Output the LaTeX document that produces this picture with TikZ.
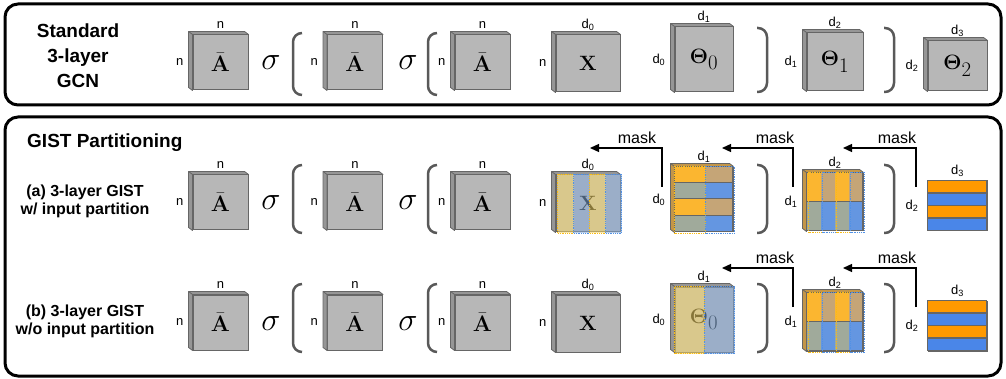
\documentclass[tikz,border=0pt]{standalone}
\usepackage{amsmath}
\usepackage{graphicx}
\usepackage[no-math]{fontspec}
\setsansfont{Liberation Sans}
\usetikzlibrary{positioning,arrows.meta}

\definecolor{plategray}{RGB}{183,183,183}
\definecolor{slabgray}{RGB}{150,150,150}
\definecolor{slabor}{RGB}{196,150,72}
\definecolor{edgegray}{RGB}{102,102,102}
\definecolor{parengray}{RGB}{89,89,89}
\definecolor{ovor}{RGB}{245,214,105}
\definecolor{ovbl}{RGB}{132,168,214}
\definecolor{dotor}{RGB}{250,188,20}
\definecolor{dotbl}{RGB}{80,145,230}
\definecolor{cor}{RGB}{251,182,48}
\definecolor{ctan}{RGB}{197,165,119}
\definecolor{cgg}{RGB}{160,170,155}
\definecolor{cbl}{RGB}{100,150,225}
\definecolor{bandor}{RGB}{255,153,0}
\definecolor{bandbl}{RGB}{74,134,232}

\newcommand{\dsub}[1]{d\textsubscript{#1}}
\newcommand{\adj}{\scalebox{1.08}{$\bar{\mathbf{A}}$}}
\newcommand{\drawslab}[2][slabgray]{%
  \filldraw[fill=#1,draw=edgegray,line width=0.8pt,line join=round]
    (#2.north east) -- ([shift={(-4,-3)}]#2.north east)
    -- ([shift={(-4,-3)}]#2.north west) -- ([shift={(-4,-3)}]#2.south west)
    -- (#2.south west) -- (#2.north west) -- cycle;
  \draw[edgegray,line width=0.8pt] (#2.north west) -- ++(-4,-3);}

\begin{document}
\begin{tikzpicture}[x=1pt,y=-1pt,
    panel/.style={draw=black,line width=3pt,rounded corners=13pt},
    title/.style={font=\sffamily\bfseries\fontsize{19}{25}\selectfont,align=center,inner sep=0pt},
    rowtitle/.style={font=\sffamily\bfseries\fontsize{16}{18}\selectfont,align=center,inner sep=0pt},
    mat/.style={draw=edgegray,fill=plategray,line width=1pt,inner sep=0pt,font=\fontsize{20.74}{21}\selectfont},
    lbl/.style={font=\sffamily\fontsize{13}{13}\selectfont,inner sep=1pt},
    sig/.style={font=\fontsize{24.88}{25}\selectfont,inner sep=0pt,anchor=base},
    paren/.style={draw=parengray,line width=2.5pt,rounded corners=9pt},
    maskarrow/.style={-{Triangle[length=9pt,width=8pt]},line width=1.3pt},
    masktxt/.style={font=\sffamily\fontsize{16}{16}\selectfont,inner sep=0pt},
    part/.style={densely dotted,line width=0.8pt}]

\useasboundingbox (0,0) rectangle (1006,379);
\draw[panel] (5,4) rectangle (1001,105);
\draw[panel] (5,117) rectangle (1001,376);

\node[title] (gcn) at (78,56) {Standard\\3-layer\\GCN};
\node[title,anchor=base west] (gist) at (27,148) {GIST Partitioning};
\node[rowtitle] (rowa) at (85,201) {(a) 3-layer GIST\\w/ input partition};
\node[rowtitle] (rowb) at (85,321) {(b) 3-layer GIST\\w/o input partition};

% one row per model
\foreach \r/\dy/\pt/\pb/\qt/\qb in {t/0/33/95/28/92,a/140/165/233/165/233,b/260/284/352/284/352}{
  \node[mat,minimum width=55pt,minimum height=55pt] (A1\r) at (220.5,62.5+\dy) {\adj};
  \node[mat,minimum width=55pt,minimum height=55pt] (A2\r) at (355,62.5+\dy) {\adj};
  \node[mat,minimum width=55pt,minimum height=55pt] (A3\r) at (482.5,62.5+\dy) {\adj};
  \node[mat,minimum width=64pt,minimum height=57pt] (X\r) at (588,63.5+\dy) {$\mathbf{X}$};
  \node[mat,minimum width=58pt,minimum height=65pt] (Th0\r) at (704,59.5+\dy) {$\boldsymbol{\Theta}_{\textstyle 0}$};
  \node[mat,minimum width=56pt,minimum height=58pt] (Th1\r) at (835,62+\dy) {$\boldsymbol{\Theta}_{\textstyle 1}$};
  \node[mat,minimum width=59pt,minimum height=50pt] (Th2\r) at (957.5,66+\dy) {$\boldsymbol{\Theta}_{\textstyle 2}$};
  \foreach \m in {A1,A2,A3,X} \drawslab{\m\r};
  \node[sig] (s1\r) at (271,70+\dy) {\scalebox{1.3}{$\sigma$}};
  \node[sig] (s2\r) at (408,70+\dy) {\scalebox{1.3}{$\sigma$}};
  \draw[paren] (302,\pt) -- (293,\pt) -- (293,\pb) -- (302,\pb);
  \draw[paren] (437,\pt) -- (428,\pt) -- (428,\pb) -- (437,\pb);
  \draw[paren] (757,\qt) -- (767,\qt) -- (767,\qb) -- (757,\qb);
  \draw[paren] (884,\qt) -- (894,\qt) -- (894,\qb) -- (884,\qb);
  % sizes
  \foreach \m/\tp/\lf in {A1/n/n,A2/n/n,A3/n/n,X/\dsub0/n,Th0/\dsub1/\dsub0,Th1/\dsub2/\dsub1,Th2/\dsub3/\dsub2}{
    \node[lbl,anchor=base] (\m\r-t) at ([yshift=6pt]\m\r.north) {\tp};
    \node[lbl,left=8pt of \m\r] (\m\r-l) {\lf};
  }
}
\drawslab{Th0t}
\drawslab{Th1t}
\drawslab{Th2t}
\drawslab[slabor]{Th0a}
\drawslab[slabor]{Th1a}
\drawslab{Th0b}
\drawslab[slabor]{Th1b}

% (a) input columns
\begin{scope}[shift={(Xa.north west)}]
  \foreach \i/\c in {0/or,1/bl,2/or,3/bl}
    \filldraw[part,fill=ov\c,fill opacity=0.55,draw=dot\c] (2+16*\i,0) rectangle (18+16*\i,59);
\end{scope}
% (a) first weight
\begin{scope}[shift={(Th0a.north west)}]
  \foreach \j/\colL/\colR in {0/cor/ctan,1/cgg/cbl,2/cor/ctan,3/cgg/cbl}{
    \fill[\colL] (0,16.25*\j) rectangle (31,16.25*\j+16.25);
    \fill[\colR] (31,16.25*\j) rectangle (58,16.25*\j+16.25);
    \draw[edgegray,line width=1pt] (0,16.25*\j) rectangle (58,16.25*\j+16.25);
  }
  \draw[part,dotor] (0,0) rectangle (31,67);
  \draw[part,dotbl] (31,0) rectangle (60,67);
\end{scope}
% (b) first weight
\begin{scope}[shift={(Th0b.north west)}]
  \filldraw[part,fill=ovor,fill opacity=0.55,draw=dotor] (0,0) rectangle (30,67);
  \filldraw[part,fill=ovbl,fill opacity=0.55,draw=dotbl] (30,0) rectangle (60,67);
\end{scope}
% second and last weights
\foreach \r in {a,b}{
  \begin{scope}[shift={(Th1\r.north west)}]
    \foreach \i/\ct/\cu in {0/cor/cgg,1/ctan/cbl,2/cor/cgg,3/ctan/cbl}{
      \fill[\ct] (14*\i,0) rectangle (14*\i+14,29);
      \fill[\cu] (14*\i,29) rectangle (14*\i+14,58);
    }
    \draw[edgegray,line width=1pt] (0,0) rectangle (56,29) (0,29) rectangle (56,58);
    \foreach \i/\c in {0/or,1/bl,2/or,3/bl}
      \draw[part,dot\c] (14*\i+2,0) rectangle (14*\i+16,60);
  \end{scope}
  \begin{scope}[shift={(Th2\r.north west)}]
    \foreach \j/\c in {0/bandor,1/bandbl,2/bandor,3/bandbl}
      \filldraw[fill=\c,draw=edgegray,line width=1.2pt] (0,12.5*\j) rectangle (59,12.5*\j+12.5);
  \end{scope}
}

% masks
\foreach \n/\xs/\xt/\xm/\dy in {1a/662/590/637/140,2a/793/722/775/140,3a/916/843/897/140,2b/793/722/775/260,3b/916/843/897/260}{
  \coordinate (mk\n) at (\xs,47+\dy);
  \coordinate (mt\n) at (\xt,8+\dy);
  \draw[maskarrow] (mk\n) |- (mt\n);
  \node[masktxt] (mask\n) at (\xm,-2+\dy) {mask};
}
\end{tikzpicture}
\end{document}
